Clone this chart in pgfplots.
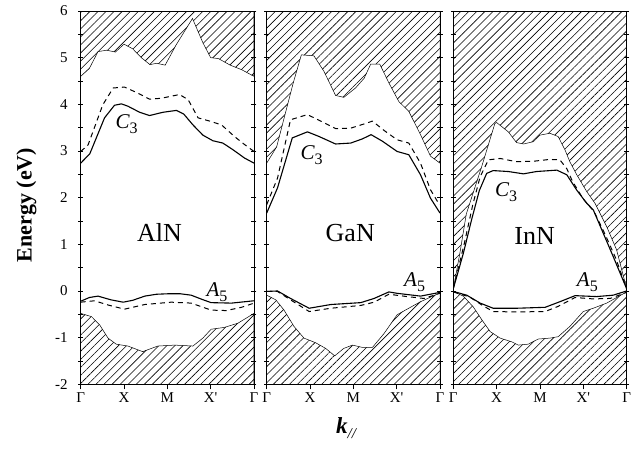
\documentclass[border=0pt]{standalone}
\usepackage{fontspec}
\setmainfont{Liberation Serif}
\usepackage{pgfplots}
\pgfplotsset{compat=1.18}
\usetikzlibrary{patterns.meta}

\pgfplotsset{
  panel/.style={
    width=173.3pt, height=373.3pt, scale only axis,
    anchor=south west,
    xmin=0, xmax=4, ymin=-2, ymax=6,
    xtick={0,1,2,3,4}, xticklabels={Γ,X,M,X\textquotesingle,Γ},
    ytick={-2,-1,0,1,2,3,4,5,6},
    minor ytick={-1.5,-0.5,0.5,1.5,2.5,3.5,4.5,5.5},
    xtick pos=bottom, xtick align=outside,
    ytick pos=both, ytick align=center,
    major tick length=5pt, minor tick length=5pt,
    x tick style={line width=0.6pt, black},
    y tick style={line width=0.6pt, black},
    minor y tick style={line width=0.6pt, black},
    tick label style={font=\fontsize{15}{17}\selectfont},
    yticklabel style={xshift=-7pt},
    /pgf/number format/assume math mode=true,
    axis line style={line width=0.8pt},
    axis on top,
    clip=true,
  },
  hatch/.style={draw=black, line width=0.5pt,
    pattern={Lines[angle=45,distance=5.7pt,line width=0.6pt]}},
  sol/.style={black, line width=1.1pt, no marks},
  dsh/.style={black, line width=1.0pt, no marks, dash pattern=on 5pt off 4pt},
}
\newcommand{\matl}[1]{{\fontsize{26}{26}\selectfont #1}}
\newcommand{\band}[2]{{\fontsize{21}{21}\selectfont\itshape #1}\raisebox{-5pt}{\fontsize{16}{16}\selectfont #2}}

\begin{document}
\begin{tikzpicture}
% ---------------- AlN ----------------
\begin{axis}[panel, at={(0pt,0pt)}]
\addplot[hatch] coordinates {(0,6) (0,4.6) (0.2,4.77) (0.4,5.13) (0.6,5.16) (0.8,5.12) (1.0,5.29) (1.2,5.19) (1.4,5.0) (1.6,4.85) (1.75,4.88) (1.95,4.84) (2.2,5.27) (2.58,5.84) (2.82,5.32) (3.0,5.0) (3.18,4.98) (3.45,4.84) (3.72,4.74) (4.0,4.6) (4,6)} -- cycle;
\addplot[hatch] coordinates {(0,-2) (0,-0.48) (0.25,-0.55) (0.44,-0.73) (0.63,-1.01) (0.82,-1.14) (1.09,-1.18) (1.43,-1.3) (1.78,-1.18) (2.17,-1.16) (2.59,-1.18) (2.82,-1.01) (3.01,-0.82) (3.32,-0.78) (3.63,-0.69) (4,-0.48) (4,-2)} -- cycle;
\addplot[sol] coordinates {(0,2.74) (0.21,2.94) (0.55,3.71) (0.78,3.98) (0.94,4.01) (1.09,3.96) (1.36,3.83) (1.59,3.76) (1.9,3.83) (2.21,3.87) (2.38,3.79) (2.59,3.56) (2.82,3.34) (3.05,3.22) (3.28,3.17) (3.51,3.03) (3.78,2.85) (4,2.74)};
\addplot[dsh] coordinates {(0,2.99) (0.17,3.13) (0.51,3.99) (0.75,4.35) (1.01,4.37) (1.32,4.24) (1.59,4.11) (1.86,4.13) (2.28,4.21) (2.48,4.1) (2.71,3.71) (2.98,3.64) (3.25,3.56) (3.55,3.31) (3.78,3.14) (4,2.99)};
\addplot[sol] coordinates {(0,-0.22) (0.2,-0.14) (0.4,-0.11) (0.7,-0.19) (0.98,-0.24) (1.2,-0.2) (1.48,-0.11) (1.75,-0.07) (2.01,-0.06) (2.3,-0.06) (2.55,-0.09) (2.8,-0.18) (3.01,-0.25) (3.48,-0.26) (4,-0.21)};
\addplot[dsh] coordinates {(0,-0.24) (0.32,-0.21) (0.63,-0.3) (1.01,-0.39) (1.48,-0.29) (2.09,-0.24) (2.55,-0.26) (3.01,-0.41) (3.36,-0.42) (3.71,-0.35) (4,-0.26)};
\node[anchor=base west] at (axis cs:1.22,1.06) {\matl{AlN}};
\node[anchor=base west, inner sep=0pt] at (axis cs:0.8,3.49) {\band{C}{3}};
\node[anchor=base west, inner sep=0pt] at (axis cs:2.9,-0.12) {\band{A}{5}};
\end{axis}
% ---------------- GaN ----------------
\begin{axis}[panel, at={(186pt,0pt)}, yticklabels={}]
\addplot[hatch] coordinates {(0,6) (0,2.74) (0.23,3.09) (0.61,4.45) (0.8,5.06) (1.09,5.04) (1.32,4.71) (1.59,4.19) (1.78,4.15) (2.05,4.35) (2.25,4.56) (2.4,4.86) (2.61,4.86) (2.82,4.46) (3.05,4.06) (3.28,3.85) (3.55,3.35) (3.78,2.89) (4,2.74) (4,6)} -- cycle;
\addplot[hatch] coordinates {(0,-2) (0,-0.09) (0.21,-0.19) (0.4,-0.41) (0.63,-0.76) (0.86,-1.01) (1.13,-1.11) (1.36,-1.23) (1.57,-1.39) (1.78,-1.23) (1.98,-1.16) (2.21,-1.21) (2.44,-1.21) (2.71,-0.91) (3.01,-0.51) (3.24,-0.39) (3.55,-0.23) (4,-0.04) (4,-2)} -- cycle;
\addplot[sol] coordinates {(0,1.67) (0.25,2.21) (0.59,3.28) (0.94,3.41) (1.21,3.31) (1.59,3.15) (1.94,3.17) (2.21,3.26) (2.41,3.35) (2.67,3.21) (3.01,2.99) (3.28,2.92) (3.55,2.49) (3.78,1.99) (4,1.67)};
\addplot[dsh] coordinates {(0,1.85) (0.25,2.42) (0.55,3.67) (0.94,3.78) (1.25,3.64) (1.59,3.48) (1.94,3.49) (2.25,3.58) (2.44,3.64) (2.71,3.44) (3.01,3.24) (3.28,3.17) (3.55,2.74) (3.78,2.17) (3.94,1.92) (4,1.85)};
\addplot[sol] coordinates {(0,-0.01) (0.25,0.0) (0.55,-0.16) (0.98,-0.37) (1.48,-0.29) (2.17,-0.25) (2.48,-0.16) (2.82,-0.02) (3.01,-0.05) (3.55,-0.11) (4,-0.03)};
\addplot[dsh] coordinates {(0,-0.01) (0.25,-0.01) (0.55,-0.19) (0.98,-0.44) (1.48,-0.37) (2.17,-0.31) (2.48,-0.24) (2.82,-0.07) (3.24,-0.12) (3.63,-0.16) (4,-0.05)};
\node[anchor=base west] at (axis cs:1.28,1.06) {\matl{GaN}};
\node[anchor=base west, inner sep=0pt] at (axis cs:0.78,2.81) {\band{C}{3}};
\node[anchor=base west, inner sep=0pt] at (axis cs:3.17,0.09) {\band{A}{5}};
\end{axis}
% ---------------- InN ----------------
\begin{axis}[panel, at={(372.6pt,0pt)}, yticklabels={}]
\addplot[hatch] coordinates {(0,6) (0,0.05) (0.15,0.8) (0.3,1.65) (0.65,2.65) (0.96,3.59) (1.0,3.61) (1.27,3.41) (1.46,3.18) (1.62,3.15) (1.85,3.2) (2.0,3.34) (2.23,3.38) (2.42,3.31) (2.58,3.02) (2.69,2.77) (2.85,2.49) (3.08,2.13) (3.27,1.88) (3.54,1.38) (3.77,0.88) (4,0.05) (4,6)} -- cycle;
\addplot[hatch] coordinates {(0,-2) (0,-0.01) (0.23,-0.11) (0.46,-0.34) (0.66,-0.62) (0.85,-0.87) (1.08,-1.01) (1.35,-1.09) (1.5,-1.16) (1.73,-1.14) (1.96,-1.03) (2.23,-1.01) (2.42,-0.98) (2.69,-0.76) (3.0,-0.44) (3.23,-0.37) (3.54,-0.26) (4,-0.02) (4,-2)} -- cycle;
\addplot[sol] coordinates {(0,0.05) (0.23,0.8) (0.42,1.52) (0.6,2.15) (0.77,2.52) (0.92,2.58) (1.27,2.56) (1.62,2.51) (1.92,2.56) (2.39,2.59) (2.62,2.49) (2.85,2.16) (3.08,1.88) (3.23,1.74) (3.46,1.24) (3.69,0.74) (4,0.05)};
\addplot[dsh] coordinates {(0,0.05) (0.25,1.0) (0.45,1.85) (0.62,2.45) (0.81,2.81) (1.08,2.84) (1.46,2.77) (1.85,2.78) (2.23,2.82) (2.46,2.81) (2.62,2.62) (2.75,2.35) (3.0,1.97) (3.25,1.7) (3.5,1.22) (3.75,0.7) (4,0.05)};
\addplot[sol] coordinates {(0,-0.01) (0.31,-0.09) (0.62,-0.26) (0.92,-0.37) (1.46,-0.37) (2.12,-0.35) (2.46,-0.23) (2.81,-0.1) (3.31,-0.12) (3.69,-0.09) (4,0)};
\addplot[dsh] coordinates {(0,-0.02) (0.38,-0.13) (0.69,-0.32) (0.92,-0.44) (1.46,-0.45) (2.12,-0.44) (2.42,-0.33) (2.81,-0.14) (3.23,-0.17) (3.62,-0.16) (4,-0.03)};
\node[anchor=base west] at (axis cs:1.33,0.99) {\matl{InN}};
\node[anchor=base west, inner sep=0pt] at (axis cs:0.96,2.02) {\band{C}{3}};
\node[anchor=base west, inner sep=0pt] at (axis cs:2.85,0.09) {\band{A}{5}};
\end{axis}
% labels
\node[rotate=90, anchor=base, inner sep=0pt, font=\fontsize{22}{22}\selectfont\bfseries] at (-49pt,179.3pt) {Energy (eV)};
\node[anchor=base, inner sep=0pt] at (265.3pt,-48.7pt) {{\fontsize{23}{23}\selectfont\bfseries\itshape k}\raisebox{-5pt}{\fontsize{15}{15}\selectfont\itshape //}};
\pgfresetboundingbox
\path[use as bounding box] (-80.7pt,-63.7pt) rectangle (559.3pt,384.3pt);
\end{tikzpicture}
\end{document}
